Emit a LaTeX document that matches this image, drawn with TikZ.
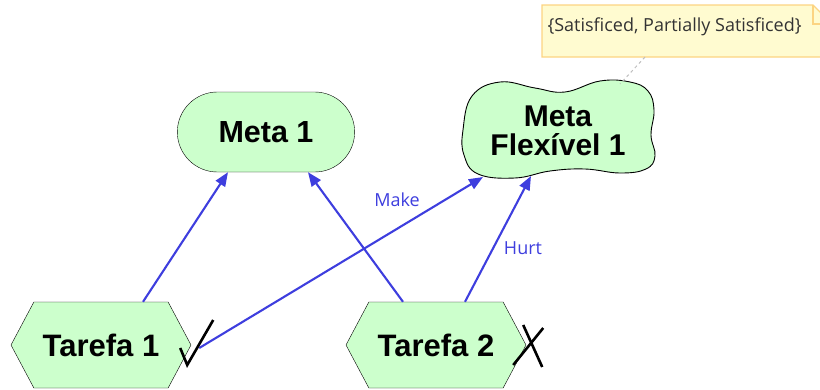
\documentclass[tikz,border=0pt]{standalone}
\usepackage{fontspec}
\setmainfont{Liberation Sans}
\newfontfamily\notefont{Open Sans}
\usetikzlibrary{arrows.meta,shapes.misc,shapes.symbols,calc}

\definecolor{goalgreen}{RGB}{204,255,204}
\definecolor{linkblue}{RGB}{62,62,222}
\definecolor{noteyellow}{RGB}{255,251,208}
\definecolor{noteborder}{RGB}{252,212,130}

\tikzset{
  goal/.style={rounded rectangle, draw, fill=goalgreen, minimum width=184pt, minimum height=80pt,
    font=\fontsize{30.5}{29}\selectfont\bfseries},
  task/.style={signal, signal to=west and east, signal pointer angle=124, draw, fill=goalgreen,
    minimum width=180pt, minimum height=86pt, inner xsep=0pt, font=\fontsize{31}{29}\selectfont\bfseries},
  contrib/.style={draw=linkblue, line width=2.1pt, -{Triangle[length=14pt,width=11pt]}},
  linklabel/.style={text=linkblue, font=\notefont\fontsize{18}{18}\selectfont},
  tickmark/.style={line width=2.6pt}
}

\begin{document}
\begin{tikzpicture}[x=1pt,y=-1pt]
                    \useasboundingbox (0,0) rectangle (820,389);
                    \clip (0,0) rectangle (820,389);
                    % Note
                    \draw[noteborder, fill=noteyellow, line width=1.2pt] (542,5) -- (813,5) -- (832,24) -- (832,57) -- (542,57) -- cycle;
                    \draw[noteborder, line width=1.2pt] (813,5) -- (813,24) -- (832,24);
                    \node[anchor=west, font=\notefont\fontsize{18}{18}\selectfont, text=black!80] (note) at (544,27) {\{Satisficed, Partially Satisficed\}};
                    \coordinate (notefoot) at (645,57);
                    % Nodes
                    \node[goal] (m1) at (266,132) {Meta 1};
                    \draw[fill=goalgreen, line width=0.9pt] plot[smooth cycle, tension=0.7] coordinates {
                      (463,130) (472,96) (500,82) (535,88) (565,92) (600,81) (630,82) (648,91)
                      (654,110) (651,135) (655,156) (646,169) (620,173) (585,169) (550,171)
                      (515,178) (478,174) (464,155)};
                    \node[align=center, font=\fontsize{30}{29}\selectfont\bfseries] (mf) at (558,131) {Meta\\Flexível 1};
                    \coordinate (mfmake) at (483,177);
                    \coordinate (mfhurt) at (531,176);
                    \coordinate (mfnote) at (620,84);
                    \node[task] (t1) at (101,345) {Tarefa 1};
                    \node[task] (t2) at (436,345) {Tarefa 2};
                    % Edges
                    \draw[contrib] ($(t1.north)+(42,0)$) -- ($(m1.south)+(-38,0)$);
                    \draw[contrib] ($(t2.north)+(-33,0)$) -- ($(m1.south)+(42,0)$);
                    \draw[contrib] ($(t1.east)+(8,3)$) -- (mfmake);
                    \draw[contrib] ($(t2.north)+(29,0)$) -- (mfhurt);
                    \node[linklabel] (make) at (397,200) {Make};
                    \node[linklabel] (hurt) at (523,248) {Hurt};
                    \draw[gray!50, dashed, line width=1pt] (notefoot) -- (mfnote);
                    % Marks
                    \draw[tickmark] ($(t1.east)+(-11,3)$) -- ($(t1.east)+(-4,20)$) -- ($(t1.east)+(22,-25)$);
                    \draw[tickmark] ($(t2.east)+(-3,-20)$) -- ($(t2.east)+(16,22)$);
                    \draw[tickmark] ($(t2.east)+(17,-17)$) -- ($(t2.east)+(-13,20)$);
                \end{tikzpicture}
\end{document}
